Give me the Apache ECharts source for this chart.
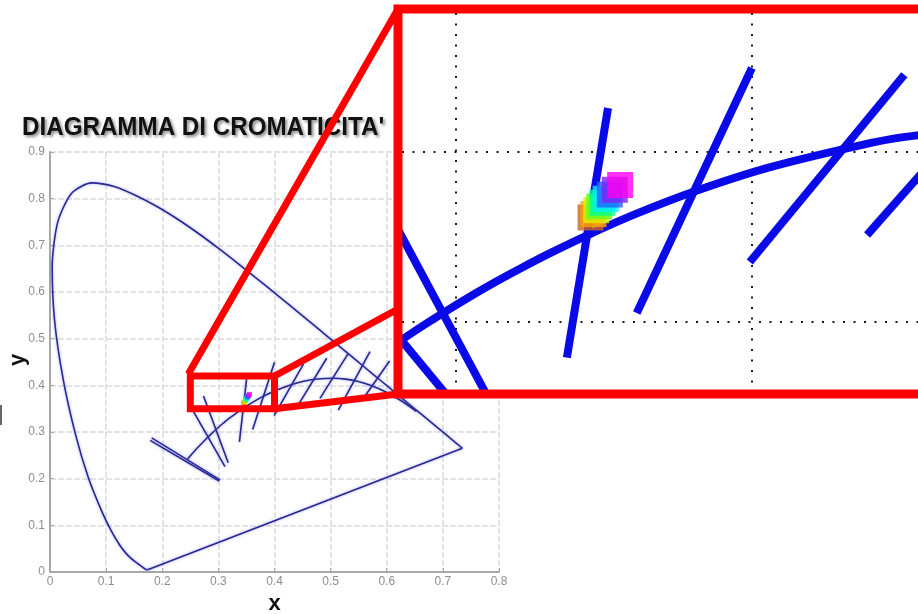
<!DOCTYPE html>
<html>
<head>
<meta charset="utf-8">
<script src="https://cdn.jsdelivr.net/npm/echarts@6/dist/echarts.min.js"></script>
<style>html,body{margin:0;padding:0;background:#fff}#chart{width:918px;height:614px}</style>
</head>
<body>
<div id="chart"></div>
<script>
// spectral locus (x, y), 380 -> 700 nm
const spectralLocus = [
  [0.1741, 0.0050], [0.1733, 0.0048], [0.1714, 0.0051], [0.1689, 0.0069], [0.1644, 0.0109],
  [0.1566, 0.0177], [0.1510, 0.0227], [0.1440, 0.0297], [0.1355, 0.0399], [0.1241, 0.0578],
  [0.1096, 0.0868], [0.0913, 0.1327], [0.0687, 0.2007], [0.0454, 0.2950], [0.0235, 0.4127],
  [0.0082, 0.5384], [0.0039, 0.6548], [0.0139, 0.7502], [0.0389, 0.8120], [0.0743, 0.8338],
  [0.1142, 0.8262], [0.1547, 0.8059], [0.1929, 0.7816], [0.2296, 0.7543], [0.2658, 0.7243],
  [0.3016, 0.6923], [0.3373, 0.6589], [0.3731, 0.6245], [0.4087, 0.5896], [0.4441, 0.5547],
  [0.4788, 0.5202], [0.5125, 0.4866], [0.5448, 0.4544], [0.5752, 0.4242], [0.6029, 0.3965],
  [0.6270, 0.3725], [0.6482, 0.3514], [0.6658, 0.3340], [0.6915, 0.3083], [0.7079, 0.2920],
  [0.7190, 0.2809], [0.7260, 0.2740], [0.7300, 0.2700], [0.7334, 0.2666], [0.7347, 0.2653]
]

// luogo di Planck, 1000 K -> 50000 K
const planckLocus = [
  [0.6528, 0.3444], [0.6251, 0.3674], [0.5985, 0.3858], [0.5732, 0.3993], [0.5493, 0.4082],
  [0.5267, 0.4133], [0.5056, 0.4152], [0.4770, 0.4137], [0.4517, 0.4089], [0.4369, 0.4041],
  [0.4053, 0.3907], [0.3805, 0.3768], [0.3608, 0.3636], [0.3451, 0.3516], [0.3325, 0.3411],
  [0.3221, 0.3318], [0.3135, 0.3237], [0.3064, 0.3166], [0.2952, 0.3048], [0.2869, 0.2956],
  [0.2807, 0.2883], [0.2719, 0.2776], [0.2637, 0.2673], [0.2565, 0.2577], [0.2501, 0.2489],
  [0.2452, 0.2419]
]

// isoterme: x1, y1, x2, y2
const isotherms = [
  [0.1812, 0.2875, 0.3029, 0.1975],
  [0.1784, 0.2820, 0.3015, 0.1950],
  [0.2524, 0.3508, 0.3118, 0.2256],
  [0.2735, 0.3770, 0.3175, 0.2340],
  [0.3375, 0.2790, 0.3514, 0.4259],
  [0.3611, 0.3053, 0.4000, 0.4494],
  [0.3993, 0.3353, 0.4515, 0.4455],
  [0.4389, 0.3512, 0.4930, 0.4580],
  [0.4810, 0.3720, 0.5315, 0.4686],
  [0.5137, 0.3470, 0.5701, 0.4720],
  [0.5560, 0.3680, 0.6050, 0.4520]
]

// punti misurati
const samplePoints = [
  [0.3455, 0.3615], [0.3465, 0.3635], [0.3474, 0.3658], [0.3484, 0.3680], [0.3495, 0.3702],
  [0.3506, 0.3725], [0.3520, 0.3750], [0.3537, 0.3778], [0.3555, 0.3806]
]
const pointColors = ['#c8641e', '#ffa000', '#e0f000', '#60ff20', '#00ff90', '#00f0ff', '#2060ff', '#8020ff', '#ff00f0']

// zona ingrandita: x0, x1, y0, y1
const zoomRegion = [0.25, 0.40, 0.35, 0.42]
const titleText = "DIAGRAMMA DI CROMATICITA'"

const chart = echarts.init(document.getElementById('chart'))

const mainLine = { color: '#28288f', width: 1.6, shadowColor: 'rgba(90,90,255,0.55)', shadowBlur: 3 }
const zoomLine = { color: '#0a0ae8', width: 8 }

function lineSeries(data, idx, style, z) {
  return {
    type: 'line', xAxisIndex: idx, yAxisIndex: idx, data: data,
    showSymbol: false, symbol: 'none', silent: true, z: z,
    lineStyle: style, clip: true
  }
}

function buildSeries(idx, style, z, size) {
  const list = []
  const last = spectralLocus[spectralLocus.length - 1]
  list.push(Object.assign(lineSeries(spectralLocus, idx, style, z), { smooth: 0.25 }))
  list.push(lineSeries([last, spectralLocus[0]], idx, style, z))
  list.push(Object.assign(lineSeries(planckLocus, idx, style, z), { smooth: 0.3 }))
  isotherms.forEach(s => list.push(lineSeries([[s[0], s[1]], [s[2], s[3]]], idx, style, z)))
  list.push({
    type: 'scatter', xAxisIndex: idx, yAxisIndex: idx, symbol: 'rect', symbolSize: size,
    silent: true, z: z + 1, clip: true,
    data: samplePoints.map((p, i) => ({ value: p, itemStyle: { color: pointColors[i] } }))
  })
  return list
}

const fontFamily = '"Liberation Sans", Arial, sans-serif'
const labelFont = { color: '#8e8e8e', fontSize: 12, fontFamily: fontFamily }
const nameFont = { fontSize: 22, fontWeight: 'bold', color: '#111', fontFamily: fontFamily }
const mainSplit = { show: true, lineStyle: { color: '#dcdcdc', width: 1.5, type: [6, 2] } }
const dotted = { show: true, showMinLine: false, showMaxLine: false, lineStyle: { color: '#1a1a1a', width: 2, type: [2, 8.5] } }

chart.setOption({
  animation: false,
  backgroundColor: '#fff',
  grid: [
    { left: 50, top: 152, width: 449, height: 420, containLabel: false, outerBoundsMode: 'none' },
    { left: 402, top: 13, width: 587, height: 377, containLabel: false, outerBoundsMode: 'none' }
  ],
  xAxis: [
    {
      type: 'value', gridIndex: 0, min: 0, max: 0.8, interval: 0.1,
      name: 'x', nameLocation: 'middle', nameGap: 20, nameTextStyle: nameFont,
      axisLine: { show: true, onZero: false, lineStyle: { color: '#a8a8a8', width: 2 } },
      axisTick: { show: true, inside: true, length: 4, lineStyle: { color: '#a8a8a8' } },
      axisLabel: Object.assign({ margin: 4 }, labelFont),
      splitLine: mainSplit
    },
    {
      type: 'value', gridIndex: 1, min: 0.2818, max: 0.4801, splitNumber: 2,
      minInterval: 0.1, maxInterval: 0.1, z: 11,
      axisLine: { show: false }, axisTick: { show: false }, axisLabel: { show: false },
      splitLine: dotted
    }
  ],
  yAxis: [
    {
      type: 'value', gridIndex: 0, min: 0, max: 0.9, interval: 0.1,
      axisLine: { show: true, onZero: false, lineStyle: { color: '#a8a8a8', width: 2 } },
      axisTick: { show: true, inside: true, length: 4, lineStyle: { color: '#a8a8a8' } },
      axisLabel: Object.assign({ margin: 5 }, labelFont),
      splitLine: mainSplit
    },
    {
      type: 'value', gridIndex: 1, min: 0.26, max: 0.4818, splitNumber: 2,
      minInterval: 0.1, maxInterval: 0.1, z: 11,
      axisLine: { show: false }, axisTick: { show: false }, axisLabel: { show: false },
      splitLine: dotted
    }
  ],
  series: buildSeries(0, mainLine, 2, 5).concat(buildSeries(1, zoomLine, 12, 26))
})

// riquadri e collegamenti rossi
const tl = chart.convertToPixel({ gridIndex: 0 }, [zoomRegion[0], zoomRegion[3]])
const br = chart.convertToPixel({ gridIndex: 0 }, [zoomRegion[1], zoomRegion[2]])
const red = { stroke: '#ff0000', lineWidth: 7, fill: 'none' }
const inset = { x: 398, y: 9, width: 620, height: 385 }

chart.setOption({
  graphic: [
    {
      type: 'text', x: 22, y: 128, scaleX: 0.93, z: 1, silent: true,
      style: {
        text: titleText, font: 'bold 26px ' + fontFamily, fill: '#111',
        verticalAlign: 'middle', textShadowColor: 'rgba(0,0,0,0.45)', textShadowBlur: 3,
        textShadowOffsetX: 2, textShadowOffsetY: 2
      }
    },
    {
      type: 'text', x: 18, y: 360, rotation: Math.PI / 2, z: 1, silent: true,
      style: { text: 'y', font: 'bold 22px ' + fontFamily, fill: '#111', align: 'center', verticalAlign: 'middle' }
    },
    { type: 'line', z: 1, silent: true, shape: { x1: 1, y1: 405, x2: 1, y2: 425 }, style: { stroke: '#666', lineWidth: 2 } },
    { type: 'rect', z: 10, silent: true, shape: inset, style: { fill: '#fff' } },
    { type: 'rect', z: 30, silent: true, shape: inset, style: Object.assign({}, red, { lineWidth: 9 }) },
    { type: 'rect', z: 30, silent: true, shape: { x: tl[0], y: tl[1], width: br[0] - tl[0], height: br[1] - tl[1] }, style: red },
    { type: 'line', z: 30, silent: true, shape: { x1: tl[0] - 2, y1: tl[1] - 2, x2: inset.x, y2: inset.y }, style: red },
    { type: 'line', z: 30, silent: true, shape: { x1: br[0], y1: tl[1], x2: inset.x, y2: 309 }, style: red },
    { type: 'line', z: 30, silent: true, shape: { x1: br[0], y1: br[1], x2: inset.x, y2: inset.y + inset.height }, style: red }
  ]
})
</script>
</body>
</html>
